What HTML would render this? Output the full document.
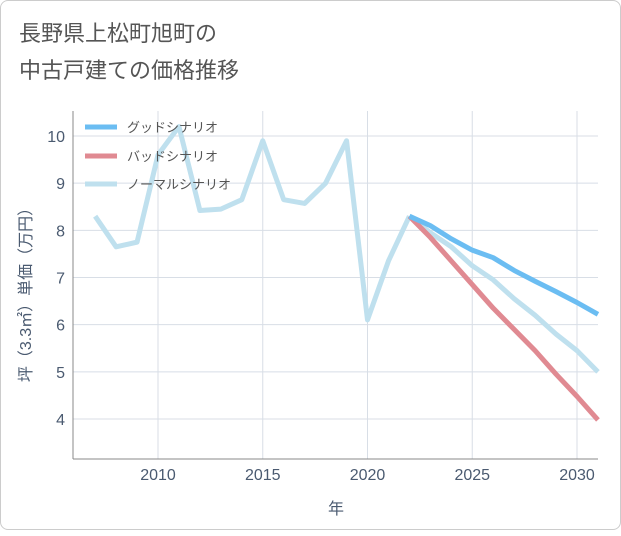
<!DOCTYPE html>
<html><head><meta charset="utf-8"><style>
body{margin:0;background:#fff;font-family:"Liberation Sans","Noto Sans CJK JP",sans-serif;}
#card{position:absolute;left:0;top:0;width:619px;height:528px;border:1px solid #ccc;border-radius:8px;background:#fff;}
</style></head><body>
<div id="card">
<svg width="621" height="530" id="svg">
<text x="18" y="40" font-size="22" fill="#555" font-family="Liberation Sans,Noto Sans CJK JP,sans-serif">長野県上松町旭町の</text>
<text x="18" y="77" font-size="22" fill="#555" font-family="Liberation Sans,Noto Sans CJK JP,sans-serif">中古戸建ての価格推移</text>
<g id="plot"></g>
</svg></div>
<script>
const years=[2007,2008,2009,2010,2011,2012,2013,2014,2015,2016,2017,2018,2019,2020,2021,2022];
const histValues=[8.3,7.65,7.75,9.6,10.2,8.42,8.45,8.65,9.9,8.65,8.57,9.0,9.9,6.1,7.35,8.3];
const futureYears=[2022,2023,2024,2025,2026,2027,2028,2029,2030,2031];
const goodValues=[8.3,8.1,7.82,7.58,7.42,7.15,6.92,6.7,6.47,6.22];
const badValues=[8.3,7.85,7.35,6.85,6.35,5.9,5.45,4.95,4.48,3.98];
const normalValues=[8.3,7.95,7.65,7.25,6.95,6.55,6.2,5.8,5.45,5.0];
const yTicks=[4,5,6,7,8,9,10];
const xTicks=[2010,2015,2020,2025,2030];
const NS="http://www.w3.org/2000/svg";
const L=72,R=597,T=110,B=458;
const x=v=>157+(v-2010)*(576-157)/20;
const y=v=>418-(v-4)*(418-135)/6;
const g=document.getElementById('plot');
function el(t,a){const e=document.createElementNS(NS,t);for(const k in a)e.setAttribute(k,a[k]);g.appendChild(e);return e;}
const bg=el('rect',{x:L,y:T,width:R-L,height:B-T,fill:'#fff'});


yTicks.forEach(v=>{
 const l=el('line',{x1:L,x2:R,y1:y(v),y2:y(v),stroke:'#d8dee6','stroke-width':1});
 
 
 const t=el('text',{x:L-8,y:y(v)+6,'text-anchor':'end','font-size':16,fill:'#4a5a70'});
 t.textContent=v;
 
 
});
xTicks.forEach(v=>{
 const l=el('line',{x1:x(v),x2:x(v),y1:T,y2:B,stroke:'#d8dee6','stroke-width':1});
 
 
 const t=el('text',{x:x(v),y:B+21,'text-anchor':'middle','font-size':16,fill:'#4a5a70'});
 t.textContent=v;
 
 
});
const ax=el('line',{x1:L,x2:L,y1:T,y2:B,stroke:'#888','stroke-width':1});


const xa=el('line',{x1:L,x2:R,y1:B,y2:B,stroke:'#888','stroke-width':1});


function line(xs,vs,color,name){
 const p=el('polyline',{points:xs.map((v,i)=>x(v)+','+y(vs[i])).join(' '),fill:'none',stroke:color,'stroke-width':5,'stroke-linejoin':'round'});
 
 
}
line(years,histValues,'#bfe0ee','history-line');
line(futureYears,normalValues,'#bfe0ee','normal-scenario-line');
line(futureYears,badValues,'#e08a92','bad-scenario-line');
line(futureYears,goodValues,'#6bbdf2','good-scenario-line');
const leg=[['グッドシナリオ','#6bbdf2',126],['バッドシナリオ','#e08a92',155],['ノーマルシナリオ','#bfe0ee',183]];
leg.forEach(([n,c,yy])=>{
 const l=el('line',{x1:84,x2:116,y1:yy,y2:yy,stroke:c,'stroke-width':5});
 
 
 const t=el('text',{x:126,y:yy+5,'font-size':13,fill:'#555'});
 t.textContent=n;
 
 
});
const xt=el('text',{x:335,y:513,'text-anchor':'middle','font-size':16,fill:'#4a5a70'});
xt.textContent='年';


const yt=el('text',{x:0,y:0,'text-anchor':'middle','font-size':16,fill:'#4a5a70',transform:'translate(30,290) rotate(-90)'});
yt.textContent='坪（3.3㎡）単価（万円）';


</script>
</body></html>
